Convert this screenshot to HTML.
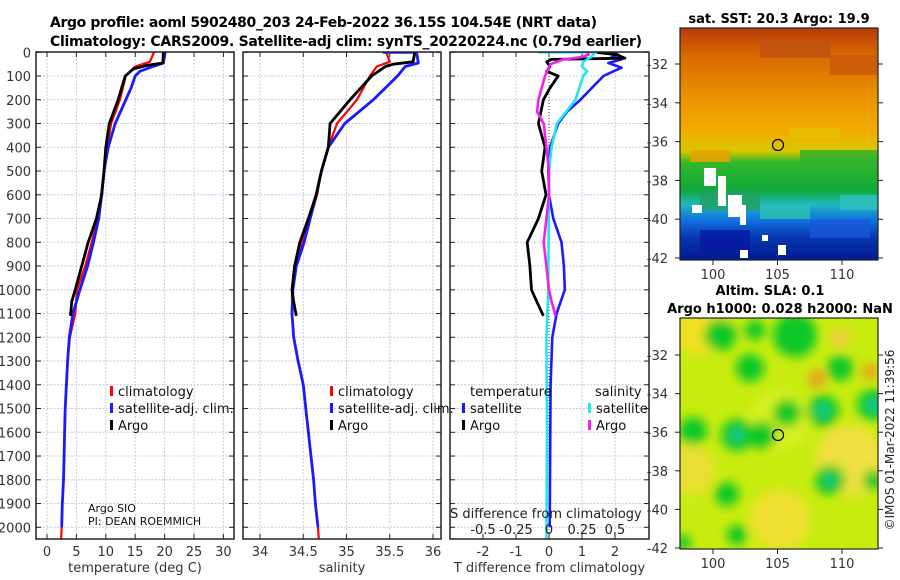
<!DOCTYPE html>
<html><head><meta charset="utf-8"><style>
html,body{margin:0;padding:0;background:#fff;}
svg{display:block;font-family:"DejaVu Sans","Liberation Sans",sans-serif;}
</style></head><body>
<svg id="fig" width="900" height="580" viewBox="0 0 900 580" xmlns="http://www.w3.org/2000/svg">
<defs>
<clipPath id="c1"><rect x="36" y="52" width="198" height="487"/></clipPath>
<clipPath id="c2"><rect x="243" y="52" width="198" height="487"/></clipPath>
<clipPath id="c3"><rect x="450" y="52" width="199" height="487"/></clipPath>
<clipPath id="cm1"><rect x="680" y="28" width="198" height="232"/></clipPath>
<clipPath id="cm2"><rect x="680" y="318" width="198" height="231"/></clipPath>
<linearGradient id="sstg" x1="0" y1="0" x2="0" y2="1">
<stop offset="0" stop-color="#b83a08"/><stop offset="0.12" stop-color="#d86a00"/>
<stop offset="0.3" stop-color="#eb9200"/><stop offset="0.45" stop-color="#f0ae00"/>
<stop offset="0.53" stop-color="#d8c800"/><stop offset="0.58" stop-color="#30b828"/>
<stop offset="0.7" stop-color="#10a838"/><stop offset="0.76" stop-color="#20b8c0"/>
<stop offset="0.83" stop-color="#1070e0"/><stop offset="0.9" stop-color="#0838b0"/>
<stop offset="1" stop-color="#001a90"/></linearGradient>
<filter id="bl" x="-50%" y="-50%" width="200%" height="200%"><feGaussianBlur stdDeviation="5"/></filter>
</defs>
<g id="titles">
<text x="50" y="27" font-size="14" font-weight="bold" textLength="547">Argo profile: aoml 5902480_203 24-Feb-2022 36.15S 104.54E (NRT data)</text>
<text x="50" y="46" font-size="14" font-weight="bold" textLength="592">Climatology: CARS2009. Satellite-adj clim: synTS_20220224.nc (0.79d earlier)</text>
</g>
<g id="axes"></g>
<g id="maps"></g>
</svg>
<script>
// ---- Temperature profiles (depth m, deg C)
const climTdepth=[0,40,60,100,200,300,400,500,600,700,800,900,1000,1100,1200,1300,1400,1500,1600,1700,1800,1900,2000,2050];
const climT=[18.2,17.5,15,13.4,12.4,10.9,10.2,9.7,9.2,8.6,7.6,6.5,5.1,4.8,3.9,3.5,3.3,3.1,3.0,2.9,2.8,2.6,2.5,2.4];
const satTdepth=[0,45,60,80,100,150,200,300,400,500,600,700,800,900,1000,1100,1200,1300,1400,1500,1600,1700,1800,1900,2000];
const satT=[20.1,19.8,18,15.8,15,14.3,13.4,11.6,10.4,9.7,9.3,8.8,7.9,6.9,5.6,4.4,3.8,3.5,3.3,3.1,3.0,2.9,2.8,2.6,2.5];
const argoTdepth=[0,45,55,70,100,200,300,400,500,600,700,800,900,1000,1050,1110];
const argoT=[19.8,19.7,17,14.7,13.3,12.1,10.6,10,9.7,9.3,8.4,7.0,5.9,4.8,4.2,4.0];
// ---- Salinity profiles
const climSdepth=[0,30,40,60,100,200,300,400,500,600,700,800,900,1000,1100,1200,1300,1400,1500,1600,1700,1800,1900,2000,2050];
const climS=[35.46,35.49,35.5,35.35,35.27,35.12,34.89,34.79,34.71,34.66,34.58,34.48,34.40,34.37,34.37,34.39,34.44,34.50,34.53,34.56,34.59,34.62,34.64,34.67,34.68];
const satSdepth=[0,0,45,60,100,200,300,400,500,600,700,800,900,1000,1100,1200,1300,1400,1500,1600,1700,1800,1900,2000];
const satS=[35.42,35.81,35.83,35.68,35.59,35.31,34.98,34.79,34.71,34.65,34.58,34.51,34.42,34.38,34.37,34.39,34.44,34.50,34.53,34.56,34.59,34.62,34.64,34.67];
const argoSdepth=[0,40,50,60,100,200,300,400,500,600,700,800,900,1000,1050,1110];
const argoS=[35.79,35.77,35.54,35.45,35.29,35.04,34.81,34.79,34.71,34.65,34.56,34.46,34.40,34.37,34.39,34.42];
// ---- Differences from climatology
const dTsatDepth=[0,10,20,30,45,65,80,100,150,200,250,300,400,500,600,700,800,900,1000,1100,1200,1400,1600,1800,2000];
const dTsat=[1.9,2.1,1.9,2.2,1.8,2.2,1.95,1.65,1.3,0.95,0.55,0.28,0.03,-0.02,0,0.13,0.38,0.45,0.48,0.23,0.1,0.05,0.04,0.03,0.02];
const dTargoDepth=[0,10,25,30,40,60,80,100,120,150,200,300,400,500,600,700,800,900,1000,1050,1110];
const dTargo=[1.45,2.05,2.3,0.08,-0.07,0.03,-0.07,0.28,0.18,0.03,-0.17,-0.32,-0.12,-0.22,-0.09,-0.32,-0.66,-0.58,-0.53,-0.37,-0.17];
const dSsatDepth=[0,0,0,20,40,60,80,100,200,250,300,400,500,1000,1200,1600,2050];
const dSsat=[-0.08,0.29,0.35,0.32,0.26,0.25,0.29,0.26,0.2,0.13,0.06,0.02,0,-0.005,-0.02,-0.015,-0.02];
const dSargoDepth=[0,10,20,30,50,100,200,250,300,400,500,600,700,800,900,1000,1050,1110];
const dSargo=[0.29,0.3,0.25,0.11,0.01,-0.03,-0.08,-0.09,-0.04,-0.02,0,0,-0.02,-0.04,-0.02,0,0.02,0.05];
const depthTicks=[0,100,200,300,400,500,600,700,800,900,1000,1100,1200,1300,1400,1500,1600,1700,1800,1900,2000];
const tempTicks=[0,5,10,15,20,25,30];
const salTicks=[34,34.5,35,35.5,36];
const salTickLabels=["34","34.5","35","35.5","36"];
const dTTicks=[-2,-1,0,1,2];
const dSTicks=[-0.5,-0.25,0,0.25,0.5];
const dSTickLabels=["-0.5","-0.25","0","0.25","0.5"];

const NS="http://www.w3.org/2000/svg";
const Y=d=>52.3+d*0.2375;
const xT=v=>47+5.88*v, xS=v=>260+86.5*(v-34), xdT=v=>549+33*v, xdS=v=>549+132*v;
const ax=document.getElementById('axes');
function mk(tag,at,parent,txt){const e=document.createElementNS(NS,tag);for(const k in at)e.setAttribute(k,at[k]);if(txt!==undefined)e.textContent=txt;(parent||ax).appendChild(e);return e;}

const panels=[
 {x0:36,x1:234,clip:'c1',ticks:tempTicks,labels:tempTicks.map(String),fx:xT,title:'temperature (deg C)',name:'temperature'},
 {x0:243,x1:441,clip:'c2',ticks:salTicks,labels:salTickLabels,fx:xS,title:'salinity',name:'salinity'},
 {x0:450,x1:649,clip:'c3',ticks:dTTicks,labels:dTTicks.map(String),fx:xdT,title:'T difference from climatology',name:'difference'}];
const yb=539;
panels.forEach((p,i)=>{
 const g=mk('g',{});
 
 
 mk('rect',{x:p.x0,y:52,width:p.x1-p.x0,height:yb-52,fill:'#fff'},g);
 depthTicks.forEach(d=>{mk('line',{x1:p.x0,x2:p.x1,y1:Y(d),y2:Y(d),stroke:'#c4c8e4','stroke-width':1,'stroke-dasharray':'2,1.5'},g);
  mk('line',{x1:p.x0,x2:p.x0+5,y1:Y(d),y2:Y(d),stroke:'#222'},g);mk('line',{x1:p.x1-5,x2:p.x1,y1:Y(d),y2:Y(d),stroke:'#222'},g);});
 p.ticks.forEach((t,k)=>{const x=p.fx(t);
  if(!(i===2&&t===0))mk('line',{x1:x,x2:x,y1:52,y2:yb,stroke:'#c4c8e4','stroke-width':1,'stroke-dasharray':'2,1.5'},g);
  mk('line',{x1:x,x2:x,y1:52,y2:57,stroke:'#222'},g);mk('line',{x1:x,x2:x,y1:yb-5,y2:yb,stroke:'#222'},g);
  const tl=mk('text',{x:x,y:556,'font-size':13,'text-anchor':'middle',fill:'#333'},g,p.labels[k]);
  
  });
 const at=mk('text',{x:(p.x0+p.x1)/2,y:572,'font-size':13,'text-anchor':'middle',fill:'#333'},g,p.title);
 
 
 p.g=g;
});
depthTicks.forEach(d=>{const t=mk('text',{x:31,y:Y(d)+5,'font-size':13,'text-anchor':'end',fill:'#333'},ax,String(d));
 
 });
// zero line in diff panel
mk('line',{x1:549,x2:549,y1:52,y2:yb,stroke:'#333','stroke-width':1,'stroke-dasharray':'1,2'},panels[2].g);

function line(g,clip,ds,vs,fx,col,w,name){
 const pts=ds.map((d,i)=>fx(vs[i]).toFixed(1)+','+Y(d).toFixed(1)).join(' ');
 const pl=mk('polyline',{points:pts,fill:'none',stroke:col,'stroke-width':w,'stroke-linejoin':'round','clip-path':'url(#'+clip+')'},g);
 
 
}
line(panels[0].g,'c1',climTdepth,climT,xT,'#f00',2.2,'temperature-climatology-line');
line(panels[0].g,'c1',satTdepth,satT,xT,'#1a1aff',2.8,'temperature-satellite-line');
line(panels[0].g,'c1',argoTdepth,argoT,xT,'#000',2.8,'temperature-argo-line');
line(panels[1].g,'c2',climSdepth,climS,xS,'#f00',2.2,'salinity-climatology-line');
line(panels[1].g,'c2',satSdepth,satS,xS,'#1a1aff',2.8,'salinity-satellite-line');
line(panels[1].g,'c2',argoSdepth,argoS,xS,'#000',2.8,'salinity-argo-line');
line(panels[2].g,'c3',dTsatDepth,dTsat,xdT,'#1a1aff',2.6,'t-diff-satellite-line');
line(panels[2].g,'c3',dTargoDepth,dTargo,xdT,'#000',2.8,'t-diff-argo-line');
line(panels[2].g,'c3',dSsatDepth,dSsat,xdS,'#20e8f0',2.6,'s-diff-satellite-line');
line(panels[2].g,'c3',dSargoDepth,dSargo,xdS,'#f020f0',2.6,'s-diff-argo-line');
panels.forEach(p=>mk('rect',{x:p.x0,y:52,width:p.x1-p.x0,height:yb-52,fill:'none',stroke:'#222','stroke-width':1.5},p.g));
// S axis labels inside diff panel
dSTicks.forEach((t,k)=>{const s=mk('text',{x:xdS(t),y:534,'font-size':13,'text-anchor':'middle',fill:'#222'},ax,dSTickLabels[k]);
 
 });
const st=mk('text',{x:450,y:518,'font-size':13,fill:'#222'},ax,'S difference from climatology');



function leg(x,y,col,label,name){const g=mk('g',{});
 
 
 mk('rect',{x:x,y:y-10,width:3,height:10,fill:col},g);mk('text',{x:x+8,y:y,'font-size':13,fill:'#111'},g,label);}
[[110,'#f00','climatology'],[110,'#1a1aff','satellite-adj. clim.'],[110,'#000','Argo']].forEach((e,k)=>leg(e[0],396+k*17,e[1],e[2],'temperature-legend-entry'));
[[330,'#f00','climatology'],[330,'#1a1aff','satellite-adj. clim.'],[330,'#000','Argo']].forEach((e,k)=>leg(e[0],396+k*17,e[1],e[2],'salinity-legend-entry'));
mk('text',{x:470,y:396,'font-size':13,fill:'#111'},ax,'temperature');
mk('text',{x:595,y:396,'font-size':13,fill:'#111'},ax,'salinity');
leg(462,413,'#1a1aff','satellite','diff-legend-t-satellite');
leg(462,430,'#000','Argo','diff-legend-t-argo');
leg(588,413,'#20e8f0','satellite','diff-legend-s-satellite');
leg(588,430,'#f020f0','Argo','diff-legend-s-argo');
mk('text',{x:88,y:512,'font-size':11,fill:'#111'},ax,'Argo SIO');
mk('text',{x:88,y:525,'font-size':11,fill:'#111'},ax,'PI: DEAN ROEMMICH');

// ---- Maps
const mp=document.getElementById('maps');
const latTicks=[-32,-34,-36,-38,-40,-42];
const lonTicks=[100,105,110];
function mapFrame(top,bot,yOf,name){
 const g=mk('g',{},mp);
 
 
 mk('rect',{x:680,y:top,width:198,height:bot-top,fill:'none',stroke:'#222','stroke-width':1.2},g);
 latTicks.forEach(l=>{const y=yOf(l);mk('line',{x1:878,x2:883,y1:y,y2:y,stroke:'#222'},g);mk('line',{x1:675,x2:680,y1:y,y2:y,stroke:'#222'},g);
  mk('text',{x:668,y:y+5,'font-size':13,'text-anchor':'end',fill:'#333'},g,String(l));});
 lonTicks.forEach(l=>{const x=713+(l-100)*12.9;mk('line',{x1:x,x2:x,y1:bot,y2:bot+5,stroke:'#222'},g);
  mk('text',{x:x,y:bot+19,'font-size':13,'text-anchor':'middle',fill:'#333'},g,String(l));});
 return g;}
// SST map
const g1=mk('g',{'clip-path':'url(#cm1)'},mp);


mk('rect',{x:680,y:28,width:198,height:232,fill:'url(#sstg)'},g1);
[[760,40,70,18,'#c05010'],[830,55,50,20,'#c85a08'],[690,150,40,12,'#f0a000'],[800,150,80,16,'#30b030'],[790,128,50,10,'#e8c000'],
 [700,190,60,20,'#20a060'],[840,195,40,15,'#30c0c0'],[760,205,50,14,'#30c0b0'],[810,220,60,18,'#1858d8'],[700,230,50,22,'#0818a0']].forEach(r=>
 mk('rect',{x:r[0],y:r[1],width:r[2],height:r[3],fill:r[4],opacity:0.8},g1));
[[704,168,12,18],[718,176,8,30],[692,205,10,8],[728,195,14,22],[740,205,6,20],[778,245,8,10],[740,250,8,8],[762,235,6,6]].forEach(r=>
 mk('rect',{x:r[0],y:r[1],width:r[2],height:r[3],fill:'#fff'},g1));
mk('circle',{cx:778,cy:145,r:5.5,fill:'none',stroke:'#000','stroke-width':1.2},mp);
mapFrame(28,260,l=>64+(-32-l)*19.4,'sst-map-axes');
mk('text',{x:779,y:23,'font-size':13,'font-weight':'bold','text-anchor':'middle'},mp,'sat. SST: 20.3 Argo: 19.9');
// SLA map
const g2=mk('g',{'clip-path':'url(#cm2)'},mp);


mk('rect',{x:680,y:318,width:198,height:231,fill:'#c8ec10'},g2);
const gb=mk('g',{filter:'url(#bl)'},g2);
[[700,325,30,'#f0e020'],[690,470,25,'#e8e030'],[780,420,30,'#d8f020'],[850,460,35,'#f0e040'],[780,520,30,'#f0e030']].forEach(c=>mk('circle',{cx:c[0],cy:c[1],r:c[2],fill:c[3]},gb));
[[720,335,16],[750,368,14],[795,335,22],[840,368,13],[693,431,14],[737,435,16],[762,435,14],[787,413,14],[823,411,16],[873,405,16],[830,480,15],[873,480,10],[727,494,12],[737,535,10],[683,543,8],[755,330,10]].forEach(c=>mk('circle',{cx:c[0],cy:c[1],r:c[2],fill:'#10c828'},gb));
[[737,435,6],[823,411,6],[873,405,6],[830,480,5]].forEach(c=>mk('circle',{cx:c[0],cy:c[1],r:c[2],fill:'#20c8a0'},gb));
[[817,379,9,'#e8a020'],[870,372,8,'#e8a020'],[840,338,10,'#f0d040']].forEach(c=>mk('circle',{cx:c[0],cy:c[1],r:c[2],fill:c[3]},gb));
mk('circle',{cx:778,cy:435,r:5.5,fill:'none',stroke:'#000','stroke-width':1.2},mp);
mapFrame(318,549,l=>355+(-32-l)*19.3,'sla-map-axes');
mk('text',{x:770,y:295,'font-size':13,'font-weight':'bold','text-anchor':'middle'},mp,'Altim. SLA: 0.1');
mk('text',{x:780,y:313,'font-size':13,'font-weight':'bold','text-anchor':'middle'},mp,'Argo h1000: 0.028 h2000: NaN');
const cr=mk('text',{x:0,y:0,'font-size':12,'text-anchor':'middle',fill:'#222',transform:'translate(894,440) rotate(-90)'},mp,'©IMOS 01-Mar-2022 11:39:56');


</script>
</body></html>
